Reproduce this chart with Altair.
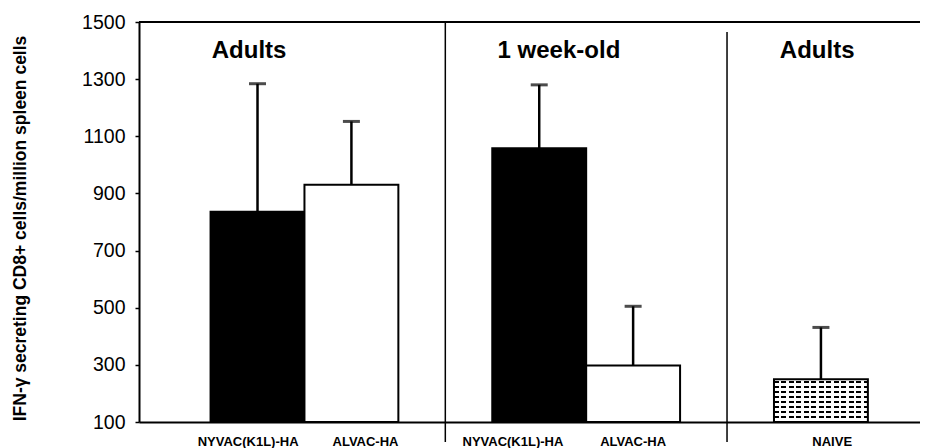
import altair as alt
import pandas as pd

# ---- data ----
groups = ["Adults", "Adults", "1 week-old", "1 week-old", "Adults"]
vaccines = ["NYVAC(K1L)-HA", "ALVAC-HA", "NYVAC(K1L)-HA", "ALVAC-HA", "NAIVE"]
means = [836, 930, 1058, 298, 250]
upper = [1284, 1152, 1280, 505, 431]
fill_kind = ["solid", "open", "solid", "open", "dotted"]

group_titles = ["Adults", "1 week-old", "Adults"]
y_ticks = [100, 300, 500, 700, 900, 1100, 1300, 1500]
y_title = "IFN-\u03b3 secreting CD8+ cells/million spleen cells"

# ---- layout (slot positions along the x axis) ----
slots = [0, 1, 3, 4, 6]
label_nudge = [-0.1, 0.15, -0.28, 0.0, 0.12]
title_slots = [-0.09, 3.21, 5.96]
separator_slots = [2, 5]
separator_tops = [1500, 1465]
x_domain = [-1.262, 7.055]
y_domain = [100, 1500]

FONT = "Liberation Sans"

df = pd.DataFrame({
    "group": groups,
    "vaccine": vaccines,
    "mean": means,
    "upper": upper,
    "kind": fill_kind,
    "slot": slots,
})
df["x0"] = df["slot"] - 0.5
df["x1"] = df["slot"] + 0.5
df["lx"] = df["slot"] + pd.Series(label_nudge)
df["base"] = y_domain[0]

titles_df = pd.DataFrame({"title": group_titles, "pos": title_slots})
sep_df = pd.DataFrame({"slot": separator_slots, "top": separator_tops})
frame_df = pd.DataFrame({"xa": [x_domain[0]], "xb": [x_domain[1]], "yt": [y_domain[1]]})

xscale = alt.Scale(domain=x_domain, nice=False, zero=False)
yscale = alt.Scale(domain=y_domain, nice=False, zero=False)
xaxis = alt.Axis(labels=False, ticks=False, grid=False, title=None,
                 domainColor="black", domainWidth=2)
yaxis = alt.Axis(values=y_ticks, format="d", grid=False, tickSize=4, tickWidth=1.5,
                 tickColor="black", domainColor="black", domainWidth=2,
                 labelFont=FONT, labelFontSize=19.5, labelColor="black",
                 labelPadding=10, title=y_title, titleFont=FONT,
                 titleFontSize=17.5, titleFontWeight="bold", titleColor="black",
                 titleAngle=270, titleX=-114, titleY=206, titleAlign="center",
                 titleBaseline="alphabetic")


def X(field):
    return alt.X(field, type="quantitative", scale=xscale, axis=xaxis)


def Y(field):
    return alt.Y(field, type="quantitative", scale=yscale, axis=yaxis)


base = alt.Chart(df)

bars = base.mark_bar(stroke="black", strokeWidth=2).encode(
    x=X("x0"), x2="x1", y=Y("mean"), y2="base",
    fill=alt.Fill("kind:N", scale=alt.Scale(domain=["solid", "open"],
                                            range=["black", "white"]),
                  legend=None),
).transform_filter(alt.datum.kind != "dotted")

# stippled fill: dark horizontal stripes, broken into dashes by a white overlay
bar_h = (means[4] - y_domain[0]) * 400 / (y_domain[1] - y_domain[0])
bar_w = 781 / (x_domain[1] - x_domain[0])

rows = [alt.GradientStop(color="white", offset=0)]
k = 0
while True:
    a = (k * 5.0 + 1.8) / bar_h
    b = a + 2.0 / bar_h
    if b >= 0.97:
        break
    rows += [alt.GradientStop(color="white", offset=a),
             alt.GradientStop(color="black", offset=a),
             alt.GradientStop(color="black", offset=b),
             alt.GradientStop(color="white", offset=b)]
    k += 1
rows.append(alt.GradientStop(color="white", offset=1))
row_grad = alt.LinearGradient(gradient="linear", stops=rows, x1=0, x2=0, y1=0, y2=1)

cols = [alt.GradientStop(color="rgba(255,255,255,0)", offset=0)]
k = 0
while True:
    a = (k * 7.5 + 4.8) / bar_w
    b = a + 2.7 / bar_w
    if b >= 0.99:
        break
    cols += [alt.GradientStop(color="rgba(255,255,255,0)", offset=a),
             alt.GradientStop(color="rgba(255,255,255,1)", offset=a),
             alt.GradientStop(color="rgba(255,255,255,1)", offset=b),
             alt.GradientStop(color="rgba(255,255,255,0)", offset=b)]
    k += 1
cols.append(alt.GradientStop(color="rgba(255,255,255,0)", offset=1))
col_grad = alt.LinearGradient(gradient="linear", stops=cols, x1=0, x2=1, y1=0, y2=0)

dot_base = base.transform_filter(alt.datum.kind == "dotted")
dotted_rows = dot_base.mark_bar(fill=row_grad, strokeWidth=0).encode(
    x=X("x0"), x2="x1", y=Y("mean"), y2="base")
dotted_cols = dot_base.mark_bar(fill=col_grad, strokeWidth=0).encode(
    x=X("x0"), x2="x1", y=Y("mean"), y2="base")
dotted_edge = dot_base.mark_bar(fill="transparent", stroke="black",
                                strokeWidth=2).encode(
    x=X("x0"), x2="x1", y=Y("mean"), y2="base")

err = base.mark_rule(color="black", strokeWidth=2.5).encode(
    x=X("slot"), y=Y("mean"), y2="upper")
caps = base.mark_tick(color="black", orient="horizontal", size=17,
                      thickness=3).encode(x=X("slot"), y=Y("upper"))

frame = alt.Chart(frame_df).mark_rule(color="black", strokeWidth=2).encode(
    x=X("xa"), x2="xb", y=Y("yt"))

seps = alt.Chart(sep_df).mark_rule(color="black", strokeWidth=1.5).encode(
    x=X("slot"), y=Y("top"), y2=alt.value(420))

gtitles = alt.Chart(titles_df).mark_text(
    font=FONT, fontSize=24, fontWeight="bold", color="black",
    align="center", baseline="alphabetic").encode(
    x=X("pos"), y=alt.value(36), text="title:N")

xlabels = base.mark_text(
    font=FONT, fontSize=13, fontWeight="bold", color="black",
    align="center", baseline="alphabetic").encode(
    x=X("lx"), y=alt.value(424), text="vaccine:N")

chart = alt.layer(bars, dotted_rows, dotted_cols, dotted_edge, err, caps,
                  frame, seps, gtitles, xlabels).properties(
    width=781, height=400,
    padding={"left": 131, "top": 14, "right": 0, "bottom": 26},
    autosize=alt.AutoSizeParams(type="none"),
).configure_view(stroke=None).configure(background="white")

chart.save("out.html", embed_options={"renderer": "svg", "actions": False})
